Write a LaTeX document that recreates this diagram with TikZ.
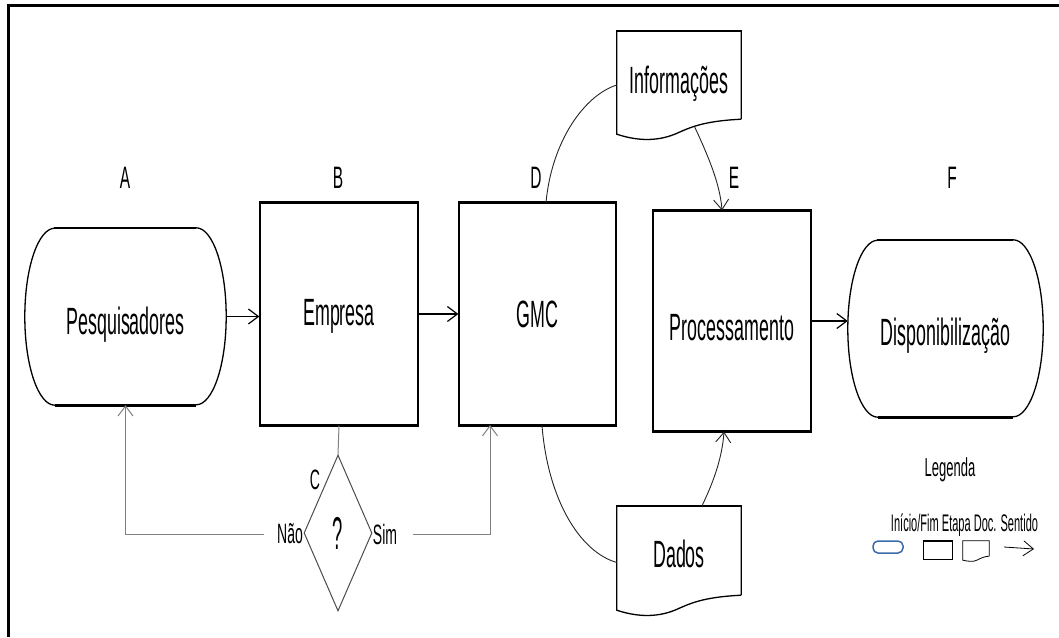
\documentclass[tikz,border=0pt]{standalone}
\usepackage{fontspec}
\setmainfont{Liberation Sans}[FakeStretch=0.6]
\newfontfamily\fnarrow{Liberation Sans}[FakeStretch=0.5]
\newfontfamily\fdoc{Liberation Sans}[FakeStretch=0.47]
\newfontfamily\flegrow{Liberation Sans}[FakeStretch=0.46]
\newfontfamily\fq{Liberation Sans}[FakeStretch=0.4]
\usetikzlibrary{arrows.meta,shapes.geometric,calc}
\newcommand\docshape[1]{\draw[line width=1.3pt] (#1.south east) -- (#1.north east) -- (#1.north west) -- ($(#1.south west)+(0,15)$) .. controls ($(#1.south west)+(18,21)$) and ($(#1.south west)+(38,23)$) .. ($(#1.south west)+(58,15)$) .. controls ($(#1.south west)+(72,9)$) and ($(#1.south west)+(84,2)$) .. (#1.south east);
\draw[line width=2.6pt] (#1.north west) -- (#1.north east);}
\newcommand\stadium[1]{\draw[line width=1.3pt] ($(#1.north west)+(30,0)$) -- ($(#1.north east)+(-30,0)$) arc[start angle=90,end angle=-90,x radius=30pt,y radius=88.5pt] -- ($(#1.south west)+(30,0)$) arc[start angle=270,end angle=90,x radius=30pt,y radius=88.5pt] -- cycle;
\draw[line width=2.6pt] ($(#1.north west)+(30,0)$) -- ($(#1.north east)+(-30,0)$) ($(#1.south west)+(30,0)$) -- ($(#1.south east)+(-30,0)$);}
\newcommand\thickedges[1]{\draw[line width=2.6pt] (#1.north west) -- (#1.north east) (#1.south west) -- (#1.south east);}
\begin{document}
\begin{tikzpicture}[x=1pt,y=-1pt,
  big/.style={font=\fdoc\fontsize{38}{42}\selectfont, text depth=0pt},
  lbl/.style={font=\fnarrow\fontsize{31}{35}\selectfont},
  sml/.style={font=\fnarrow\fontsize{28}{32}\selectfont},
  box/.style={draw, line width=1.3pt, inner sep=0pt, big},
  plain/.style={inner sep=0pt, big},
  arr/.style={-{Straight Barb[length=10pt,width=15pt]}, line width=1.2pt},
  gline/.style={draw=black!50, line width=1pt},
  curve/.style={draw=black!85, line width=0.9pt}]
\useasboundingbox (0,0) rectangle (1059,637);
\fill[white] (0,0) rectangle (1059,637);
% frame
\draw[line width=3pt] (8.5,637) -- (8.5,5.5) -- (1059,5.5);

% step labels
\node[lbl] (la) at (125,178) {A};
\node[lbl] (lb) at (338,178) {B};
\node[lbl] (ld) at (536,178) {D};
\node[lbl] (le) at (734,178) {E};
\node[lbl] (lf) at (952,178) {F};

% main shapes
\node[plain, text height=35pt, minimum width=201pt, minimum height=177pt] (pes) at (125.5,316.5) {Pesquisadores};
\stadium{pes}
\node[box, text height=22pt, minimum width=158pt, minimum height=222pt] (emp) at (339,314) {Empresa};
\thickedges{emp}
\node[box, text height=26pt, minimum width=157pt, minimum height=222pt] (gmc) at (537.5,314) {GMC};
\thickedges{gmc}
\node[box, text height=38pt, minimum width=158pt, minimum height=220pt] (proc) at (732,321) {Processamento};
\thickedges{proc}
\node[plain, text height=33pt, minimum width=195pt, minimum height=177pt] (disp) at (945.5,328.5) {Disponibiliza\c{c}\~ao};
\stadium{disp}

% documents
\node[plain, text height=36pt, minimum width=124pt, minimum height=88pt] (info) at (679,75) {Informações};
\docshape{info}
\node[plain, text height=33pt, minimum width=124pt, minimum height=89pt] (dados) at (679,550.5) {Dados};
\docshape{dados}

% decision
\node[draw=black!70, line width=1pt, diamond, minimum width=68pt, minimum height=156pt, inner sep=0pt, font=\fq\fontsize{46}{50}\selectfont] (dia) at (338,533) {?};
\node[sml] (c) at (315,480) {C};
\node[sml] (nao) at (290,534) {Não};
\node[sml] (sim) at (385,534) {Sim};
\coordinate (gin) at (490,425);

% connectors
\draw[arr] (pes.east) -- (emp.west |- pes.east);
\draw[arr] (emp.east) -- (gmc.west);
\draw[arr] (proc.east) -- (disp.west |- proc.east);
\draw[gline] (emp.south) -- (dia.north);
\draw[gline, arr, line width=1pt] ([xshift=-10pt]nao.west) -| (pes.south);
\draw[gline, arr, line width=1pt] ([xshift=12pt]sim.east) -| (gin);

\draw[curve] ([xshift=8.5pt]gmc.north) .. controls (552,140) and (585,95) .. ([yshift=-10pt]info.west);
\draw[arr, curve] ($(info.south west)+(78,8)$) .. controls (710,160) and (720,185) .. ([xshift=-10pt]proc.north);
\draw[curve] ([xshift=4.5pt]gmc.south) .. controls (548,500) and (580,552) .. ([yshift=-12pt]dados.west);
\draw[arr, curve] ([xshift=23pt]dados.north) .. controls (712,485) and (722,460) .. ([xshift=-8pt]proc.south);

% legend
\node[font=\fnarrow\fontsize{26}{30}\selectfont] (legt) at (950,470) {Legenda};
\node[font=\flegrow\fontsize{24}{28}\selectfont] (legrow) at (964.5,525) {Início/Fim Etapa Doc. Sentido};
\definecolor{legblue}{HTML}{3D6AA8}
\node[draw=legblue, line width=1.5pt, rounded corners=5pt, minimum width=30pt, minimum height=12pt, inner sep=0pt] (lstart) at (888,547) {};
\node[draw, line width=1pt, minimum width=29pt, minimum height=18pt, inner sep=0pt] (lstep) at (937.5,550) {};
\draw[line width=1.8pt] (lstep.north west) -- (lstep.north east) (lstep.south west) -- (lstep.south east);
\node[minimum width=26pt, minimum height=15pt, inner sep=0pt] (ldoc) at (976,548.5) {};
\draw[line width=0.8pt] (ldoc.south east) -- (ldoc.north east) -- (ldoc.north west) -- ($(ldoc.south west)+(0,4)$) .. controls ($(ldoc.south west)+(5,5)$) and ($(ldoc.south west)+(10,6)$) .. ($(ldoc.south west)+(14,4)$) .. controls ($(ldoc.south west)+(18,2)$) and ($(ldoc.south west)+(22,0)$) .. (ldoc.south east);
\coordinate (la1) at (1004,547);
\coordinate (la2) at (1034,549);
\draw[arr, line width=0.8pt] (la1) -- (la2);
\end{tikzpicture}
\end{document}
